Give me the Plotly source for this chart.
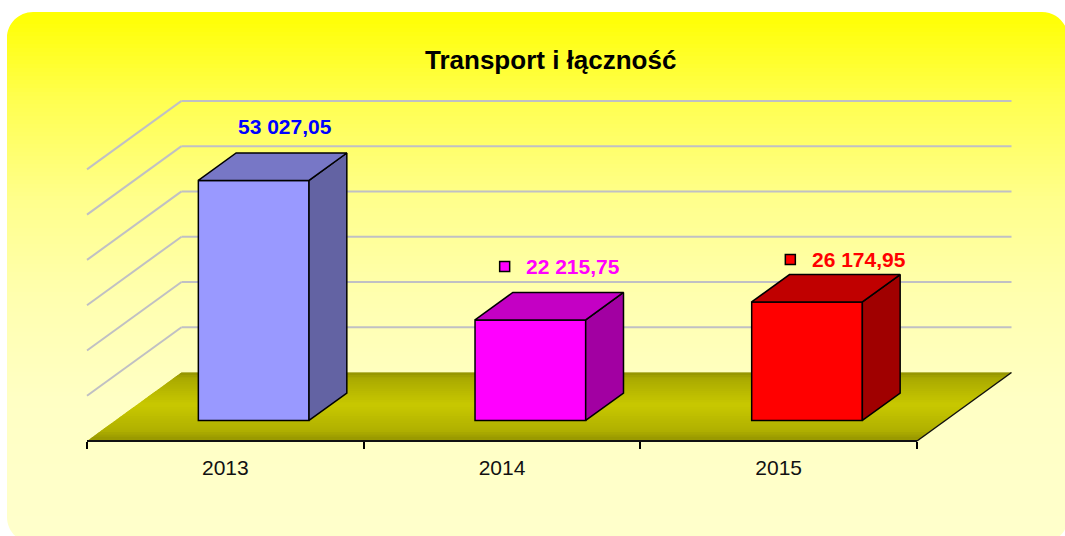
import numpy as np
import plotly.graph_objects as go

# ---------------- data ----------------
categories = ["2013", "2014", "2015"]
values = [53027.05, 22215.75, 26174.95]
gridline_values = [10000, 20000, 30000, 40000, 50000, 60000]
title_text = "Transport i łączność"

# ---------------- styles ----------------
front_colors = ["#9999FF", "#FF00FF", "#FF0000"]
top_colors = ["#7777C6", "#C400C4", "#C00000"]
side_colors = ["#6363A3", "#A200A2", "#A00000"]
label_colors = ["#0000FF", "#FF00FF", "#FF0000"]
show_key = [False, True, True]
label_shift_px = [(-6.5, 27), (5, 26), (14, 15)]   # (right, up) in px from bar top-back centre
KEY_GAP_PX = 68.5
FONT = "Liberation Sans, Arial, Helvetica, sans-serif"

# ---------------- geometry (layout) ----------------
W, H = 1065, 536
PX_PER_CAT = 276.67
FRONT_LEFT_PX = 87.0
FLOOR_FRONT_PX = 441.0
PX_PER_VAL = 0.004527
DEPTH_DX = 94.5 / PX_PER_CAT
DEPTH_DY = 68.5 / PX_PER_VAL
BAR_W = 0.4
BAR_D0, BAR_D1 = 0.3, 0.7

x_range = [-0.5 - FRONT_LEFT_PX / PX_PER_CAT, -0.5 + (W - FRONT_LEFT_PX) / PX_PER_CAT]
y_range = [-(H - FLOOR_FRONT_PX) / PX_PER_VAL, FLOOR_FRONT_PX / PX_PER_VAL]


def proj(c, v, d):
    return c + d * DEPTH_DX, v + d * DEPTH_DY


def ppx(xp, yp):
    return xp / W, 1 - yp / H


shapes = []

# ---- background gradient (rounded panel) ----
BG_L, BG_T, BG_R, BG_B, BG_RAD = 7, 12, 1068, 543, 26
bg_stops_y = [12, 100, 200, 300, 400, 543]
bg_stops_b = [0, 80, 140, 176, 196, 204]
band = 4
for y0 in np.arange(BG_T, BG_B, band):
    y1 = min(y0 + band + 1.0, BG_B)
    b = int(round(np.interp(y0 + band / 2, bg_stops_y, bg_stops_b)))
    x0p, y0p = ppx(BG_L, y0)
    x1p, y1p = ppx(BG_R, y1)
    shapes.append(dict(type="rect", xref="paper", yref="paper", x0=x0p, x1=x1p,
                       y0=y1p, y1=y0p, fillcolor=f"rgb(255,255,{b})",
                       line=dict(width=0), layer="below"))


def corner_mask(cx, cy, sx, sy, r):
    k = 0.5523
    pts_a = [(cx - sx * 3, cy - sy * 3), (cx + sx * r, cy - sy * 3), (cx + sx * r, cy)]
    c1 = (cx + sx * r * (1 - k), cy)
    c2 = (cx, cy + sy * r * (1 - k))
    end = (cx, cy + sy * r)
    tail = (cx - sx * 3, cy + sy * r)
    f = lambda p: "{:.5f},{:.5f}".format(*ppx(*p))
    path = "M" + f(pts_a[0]) + " L" + f(pts_a[1]) + " L" + f(pts_a[2])
    path += " C" + f(c1) + " " + f(c2) + " " + f(end) + " L" + f(tail) + " Z"
    return dict(type="path", xref="paper", yref="paper", path=path,
                fillcolor="white", line=dict(width=0), layer="below")


shapes.append(corner_mask(BG_L, BG_T, 1, 1, BG_RAD))
shapes.append(corner_mask(BG_R, BG_T, -1, 1, BG_RAD))
shapes.append(corner_mask(BG_L, BG_B, 1, -1, BG_RAD))
shapes.append(corner_mask(BG_R, BG_B, -1, -1, BG_RAD))

# ---- walls: grid lines ----
c_left = -0.5
c_right = len(categories) - 0.5
for v in gridline_values:
    xa, ya = proj(c_left, v, 1)
    xb, yb = proj(c_right, v, 1)
    shapes.append(dict(type="line", xref="x", yref="y", x0=xa, y0=ya, x1=xb, y1=yb,
                       line=dict(color="#C0C0C4", width=2), layer="below"))
    xf, yf = proj(c_left, v, 0)
    shapes.append(dict(type="line", xref="x", yref="y", x0=xf, y0=yf, x1=xa, y1=ya,
                       line=dict(color="#C0C0C4", width=2), layer="below"))

# ---- floor with vertical gradient (drawn back-to-front, overlapping slices) ----
floor_d = [0, 0.12, 0.5, 0.88, 1]
floor_g = [150, 176, 200, 170, 138]
nb = 30
for i in reversed(range(nb)):
    d0, d1 = i / nb, min((i + 1) / nb + 0.03, 1)
    g = int(round(np.interp((i + 0.5) / nb, floor_d, floor_g)))
    pts = [proj(c_left, 0, d0), proj(c_right, 0, d0), proj(c_right, 0, d1), proj(c_left, 0, d1)]
    path = "M" + " L".join(f"{x:.5f},{y:.2f}" for x, y in pts) + " Z"
    shapes.append(dict(type="path", xref="x", yref="y", path=path,
                       fillcolor=f"rgb({g},{g},0)", line=dict(width=0), layer="below"))
xa, ya = proj(c_left, 0, 0)
xb, yb = proj(c_right, 0, 0)
xc, yc = proj(c_right, 0, 1)
shapes.append(dict(type="line", xref="x", yref="y", x0=xa, y0=ya, x1=xb, y1=yb,
                   line=dict(color="#111", width=2), layer="below"))
shapes.append(dict(type="line", xref="x", yref="y", x0=xb, y0=yb, x1=xc, y1=yc,
                   line=dict(color="#111", width=1.5), layer="below"))

fig = go.Figure()

# ---- bar front faces ----
idx = list(range(len(categories)))
fig.add_trace(go.Bar(
    x=[i + BAR_D0 * DEPTH_DX for i in idx], y=values, base=BAR_D0 * DEPTH_DY,
    width=BAR_W, marker=dict(color=front_colors, line=dict(color="black", width=1.5)),
    hoverinfo="skip", showlegend=False))

# ---- bar top and side faces ----
dd = BAR_D1 - BAR_D0
for i, v in enumerate(values):
    xl, yb0 = proj(i - BAR_W / 2, 0, BAR_D0)
    xr = xl + BAR_W
    ddx, ddy = dd * DEPTH_DX, dd * DEPTH_DY
    top_x = [xl, xr, xr + ddx, xl + ddx, xl]
    top_y = [yb0 + v, yb0 + v, yb0 + v + ddy, yb0 + v + ddy, yb0 + v]
    side_x = [xr, xr, xr + ddx, xr + ddx, xr]
    side_y = [yb0, yb0 + v, yb0 + v + ddy, yb0 + ddy, yb0]
    fig.add_trace(go.Scatter(x=side_x, y=side_y, mode="lines", fill="toself",
                             fillcolor=side_colors[i], line=dict(color="black", width=1.5),
                             hoverinfo="skip", showlegend=False))
    fig.add_trace(go.Scatter(x=top_x, y=top_y, mode="lines", fill="toself",
                             fillcolor=top_colors[i], line=dict(color="black", width=1.5),
                             hoverinfo="skip", showlegend=False))

# ---- data labels and keys ----
annotations = []
key_x, key_y, key_c = [], [], []
for i, v in enumerate(values):
    ax, ay = proj(i, v, BAR_D1)
    sx, sy = label_shift_px[i]
    txt = f"{v:,.2f}".replace(",", " ").replace(".", ",")
    annotations.append(dict(x=ax, y=ay, xref="x", yref="y", text=f"<b>{txt}</b>",
                            showarrow=False, xshift=sx, yshift=sy,
                            font=dict(family=FONT, size=21, color=label_colors[i])))
    if show_key[i]:
        key_x.append(ax + (sx - KEY_GAP_PX) / PX_PER_CAT)
        key_y.append(ay + sy / PX_PER_VAL)
        key_c.append(front_colors[i])
fig.add_trace(go.Scatter(x=key_x, y=key_y, mode="markers",
                         marker=dict(symbol="square", size=10, color=key_c,
                                     line=dict(color="black", width=1.5)),
                         hoverinfo="skip", showlegend=False))

annotations.append(dict(x=550.5 / W, y=1 - 60 / H, xref="paper", yref="paper",
                        text=f"<b>{title_text}</b>", showarrow=False,
                        xanchor="center", yanchor="middle",
                        font=dict(family=FONT, size=26, color="black")))

fig.update_layout(
    width=W, height=H, margin=dict(l=0, r=0, t=0, b=0),
    paper_bgcolor="white", plot_bgcolor="rgba(0,0,0,0)",
    shapes=shapes, annotations=annotations, showlegend=False,
    xaxis=dict(range=x_range, anchor="free", position=1 - FLOOR_FRONT_PX / H,
               tickmode="array", tickvals=idx, ticktext=categories, ticks="",
               showgrid=False, zeroline=False, showline=False, fixedrange=True,
               tickfont=dict(family=FONT, size=21, color="#111"),
               ticklabelstandoff=12,
               minor=dict(tickmode="array", tickvals=[i - 0.5 for i in range(len(categories) + 1)],
                          ticks="outside", ticklen=7, tickwidth=1.5, tickcolor="black",
                          showgrid=False)),
    yaxis=dict(range=y_range, visible=False, fixedrange=True),
)

fig.write_html("out.html", config={"displayModeBar": False},
               post_script="document.body.style.margin='0';")
